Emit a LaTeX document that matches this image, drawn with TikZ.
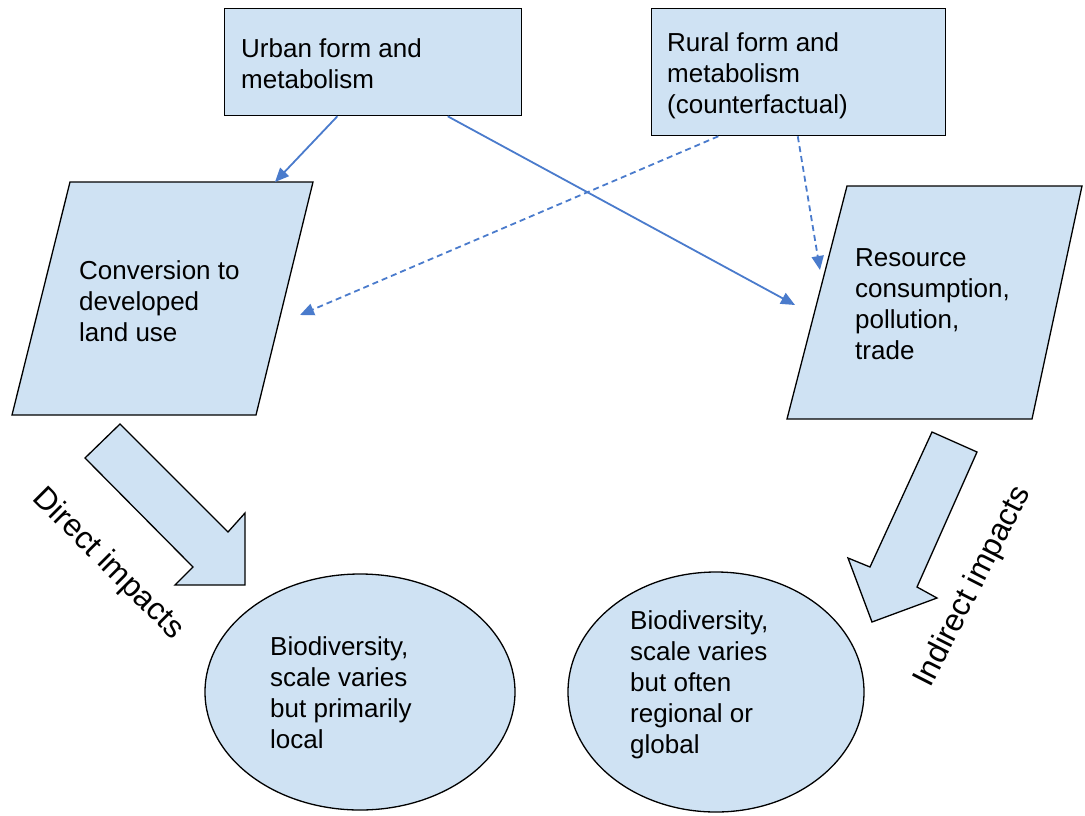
\documentclass[tikz,border=0pt]{standalone}
\usepackage{fontspec}
\setmainfont{Liberation Sans}
\usetikzlibrary{arrows.meta,calc,shapes.geometric}
\definecolor{boxfill}{HTML}{CFE2F3}
\definecolor{arr}{HTML}{4A7BCC}
\begin{document}
\begin{tikzpicture}[x=1pt,y=-1pt,
  shapebox/.style={draw=black, line width=1.3pt, fill=boxfill},
  lbl/.style={font=\fontsize{26}{31}\selectfont, align=left, anchor=north west, inner sep=0pt},
  biglbl/.style={font=\fontsize{31.5}{36}\selectfont, inner sep=0pt},
  conn/.style={draw=arr, line width=1.8pt, -{Triangle[length=14pt,width=12pt]}},
  dconn/.style={conn, dash pattern=on 6pt off 4pt}]
\useasboundingbox (0,0) rectangle (1085,815);
% top boxes
\node[shapebox, minimum width=297pt, minimum height=107pt, anchor=north west] (urban) at (224,8) {};
\node[shapebox, minimum width=294pt, minimum height=127pt, anchor=north west] (rural) at (651,8) {};
% parallelograms
\filldraw[shapebox] (70,182) -- (313,182) -- (256,415) -- (12,415) -- cycle;
\filldraw[shapebox] (847,186) -- (1082,186) -- (1032,419) -- (787,419) -- cycle;
% ellipses
\node[shapebox, ellipse, minimum width=310pt, minimum height=236pt] (bioL) at (360,692) {};
\node[shapebox, ellipse, minimum width=296pt, minimum height=240pt] (bioR) at (716,692) {};
% block arrows
\filldraw[shapebox] (120,424) -- (228,532) -- (245,513) -- (245,585) -- (175,585) -- (193,567) -- (85,458) -- cycle;
\filldraw[shapebox] (932,432) -- (977,452) -- (917,587) -- (937,598) -- (872,622) -- (848,558) -- (870,567) -- cycle;
% texts
\node[lbl] (urbanT) at (241,38) {Urban form and\\metabolism};
\node[lbl] (ruralT) at (667,32) {Rural form and\\metabolism\\(counterfactual)};
\node[lbl] (conv) at (79,260) {Conversion to\\developed\\land use};
\node[lbl] (res) at (855,248) {Resource\\consumption,\\pollution,\\trade};
\node[lbl] (bioLT) at (270,636) {Biodiversity,\\scale varies\\but primarily\\local};
\node[lbl] (bioRT) at (630,610) {Biodiversity,\\scale varies\\but often\\regional or\\global};
\node[biglbl, rotate=-45] (direct) at (108,564) {Direct impacts};
\node[biglbl, rotate=63] (indirect) at (973,587) {Indirect impacts};
% connector ends
\coordinate (convTop) at (275,182);
\coordinate (convRight) at (300,315);
\coordinate (resLeft) at (795,305);
\coordinate (resTop) at (820,270);
\draw[conn] ($(urban.south west)!0.38!(urban.south east)$) -- (convTop);
\draw[conn] ($(urban.south west)!0.75!(urban.south east)$) -- (resLeft);
\draw[dconn] ($(rural.south west)!0.228!(rural.south east)$) -- (convRight);
\draw[dconn] ($(rural.south west)!0.497!(rural.south east)$) -- (resTop);
\end{tikzpicture}
\end{document}
